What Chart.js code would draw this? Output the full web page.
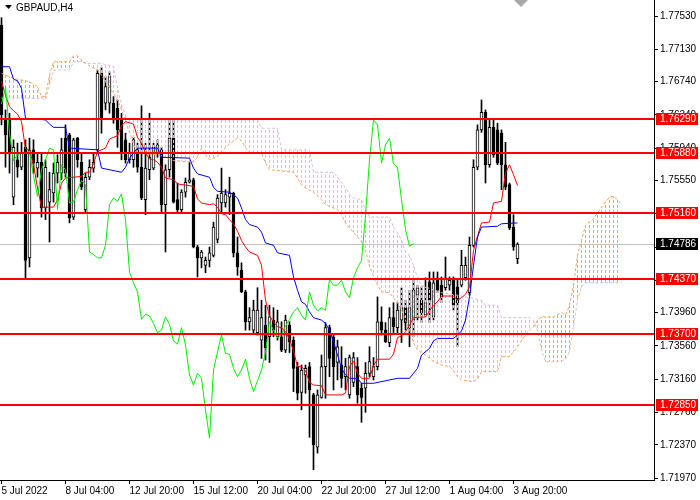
<!DOCTYPE html>
<html>
<head>
<meta charset="utf-8">
<script src="https://cdn.jsdelivr.net/npm/chart.js@4.4.1/dist/chart.umd.min.js"></script>
<style>
    html, body { margin: 0; padding: 0; background: #ffffff; }
    canvas { display: block; }
</style>
</head>
<body>
<canvas id="grafico" width="700" height="500"></canvas>
<script>
// Velas H4 GBPAUD (indice 0 = 5 Jul 12:00)
const aperturas = [
    1.7742, 1.7630, 1.7628, 1.7535, 1.7580, 1.7571, 1.7595, 1.7462, 1.7592, 1.7570,
    1.7577, 1.7522, 1.7529, 1.7540, 1.7564, 1.7564, 1.7606, 1.7610, 1.7511, 1.7606,
    1.7577, 1.7520, 1.7559, 1.7570, 1.7592, 1.7684, 1.7648, 1.7648, 1.7648, 1.7642,
    1.7628, 1.7604, 1.7580, 1.7580, 1.7592, 1.7571, 1.7532, 1.7568, 1.7570, 1.7588,
    1.7592, 1.7526, 1.7568, 1.7606, 1.7532, 1.7520, 1.7541, 1.7553, 1.7556, 1.7475,
    1.7462, 1.7453, 1.7459, 1.7465, 1.7484, 1.7528, 1.7528, 1.7535, 1.7540, 1.7468,
    1.7447, 1.7421, 1.7385, 1.7375, 1.7372, 1.7363, 1.7381, 1.7367, 1.7387, 1.7367,
    1.7367, 1.7351, 1.7381, 1.7363, 1.7331, 1.7300, 1.7321, 1.7331, 1.7297, 1.7234,
    1.7294, 1.7331, 1.7378, 1.7367, 1.7336, 1.7333, 1.7319, 1.7297, 1.7312, 1.7331,
    1.7305, 1.7305, 1.7323, 1.7319, 1.7331, 1.7385, 1.7375, 1.7360, 1.7390, 1.7378,
    1.7387, 1.7402, 1.7378, 1.7387, 1.7417, 1.7411, 1.7393, 1.7433, 1.7391, 1.7438,
    1.7429, 1.7426, 1.7429, 1.7435, 1.7427, 1.7429, 1.7438, 1.7420, 1.7477, 1.7571,
    1.7616, 1.7637, 1.7574, 1.7619, 1.7616, 1.7612, 1.7574, 1.7550, 1.7499, 1.7461
];
const maximos = [
    1.7751, 1.7640, 1.7636, 1.7604, 1.7600, 1.7601, 1.7604, 1.7606, 1.7604, 1.7589,
    1.7589, 1.7580, 1.7565, 1.7576, 1.7586, 1.7606, 1.7622, 1.7612, 1.7606, 1.7607,
    1.7588, 1.7564, 1.7580, 1.7588, 1.7688, 1.7691, 1.7680, 1.7686, 1.7656, 1.7652,
    1.7636, 1.7612, 1.7600, 1.7607, 1.7600, 1.7645, 1.7600, 1.7636, 1.7600, 1.7604,
    1.7595, 1.7574, 1.7628, 1.7628, 1.7552, 1.7544, 1.7558, 1.7577, 1.7558, 1.7477,
    1.7471, 1.7463, 1.7475, 1.7505, 1.7538, 1.7570, 1.7544, 1.7559, 1.7541, 1.7487,
    1.7456, 1.7423, 1.7402, 1.7411, 1.7426, 1.7411, 1.7405, 1.7405, 1.7402, 1.7399,
    1.7385, 1.7393, 1.7385, 1.7367, 1.7336, 1.7333, 1.7333, 1.7336, 1.7299, 1.7303,
    1.7345, 1.7384, 1.7381, 1.7369, 1.7363, 1.7355, 1.7341, 1.7345, 1.7348, 1.7342,
    1.7311, 1.7336, 1.7355, 1.7342, 1.7415, 1.7403, 1.7384, 1.7402, 1.7408, 1.7408,
    1.7426, 1.7411, 1.7423, 1.7435, 1.7429, 1.7427, 1.7438, 1.7445, 1.7445, 1.7445,
    1.7439, 1.7463, 1.7439, 1.7439, 1.7435, 1.7471, 1.7463, 1.7487, 1.7580, 1.7622,
    1.7652, 1.7640, 1.7628, 1.7628, 1.7624, 1.7616, 1.7601, 1.7552, 1.7514, 1.7480
];
const minimos = [
    1.7622, 1.7571, 1.7564, 1.7526, 1.7559, 1.7568, 1.7438, 1.7451, 1.7564, 1.7559,
    1.7511, 1.7508, 1.7481, 1.7529, 1.7552, 1.7556, 1.7559, 1.7504, 1.7508, 1.7571,
    1.7544, 1.7517, 1.7556, 1.7565, 1.7588, 1.7612, 1.7640, 1.7636, 1.7624, 1.7595,
    1.7580, 1.7576, 1.7576, 1.7571, 1.7565, 1.7532, 1.7514, 1.7556, 1.7568, 1.7583,
    1.7516, 1.7469, 1.7559, 1.7528, 1.7516, 1.7516, 1.7535, 1.7552, 1.7474, 1.7439,
    1.7450, 1.7444, 1.7451, 1.7463, 1.7480, 1.7516, 1.7523, 1.7514, 1.7463, 1.7441,
    1.7420, 1.7375, 1.7375, 1.7372, 1.7369, 1.7341, 1.7339, 1.7336, 1.7367, 1.7363,
    1.7349, 1.7348, 1.7348, 1.7301, 1.7291, 1.7279, 1.7299, 1.7246, 1.7207, 1.7227,
    1.7293, 1.7293, 1.7319, 1.7303, 1.7315, 1.7306, 1.7303, 1.7293, 1.7307, 1.7287,
    1.7264, 1.7276, 1.7319, 1.7315, 1.7327, 1.7369, 1.7360, 1.7355, 1.7372, 1.7372,
    1.7360, 1.7375, 1.7355, 1.7367, 1.7387, 1.7384, 1.7391, 1.7384, 1.7387, 1.7420,
    1.7408, 1.7423, 1.7423, 1.7399, 1.7355, 1.7427, 1.7435, 1.7417, 1.7475, 1.7568,
    1.7613, 1.7552, 1.7571, 1.7583, 1.7574, 1.7544, 1.7544, 1.7496, 1.7471, 1.7455
];
const cierres = [
    1.7634, 1.7610, 1.7588, 1.7595, 1.7571, 1.7588, 1.7459, 1.7592, 1.7576, 1.7577,
    1.7522, 1.7571, 1.7544, 1.7564, 1.7577, 1.7592, 1.7564, 1.7510, 1.7604, 1.7580,
    1.7547, 1.7559, 1.7571, 1.7577, 1.7684, 1.7628, 1.7668, 1.7680, 1.7628, 1.7616,
    1.7588, 1.7580, 1.7589, 1.7604, 1.7571, 1.7534, 1.7570, 1.7583, 1.7595, 1.7598,
    1.7526, 1.7568, 1.7606, 1.7529, 1.7520, 1.7541, 1.7553, 1.7556, 1.7475, 1.7462,
    1.7469, 1.7459, 1.7468, 1.7499, 1.7534, 1.7540, 1.7538, 1.7540, 1.7468, 1.7451,
    1.7421, 1.7385, 1.7390, 1.7399, 1.7399, 1.7390, 1.7354, 1.7391, 1.7375, 1.7385,
    1.7351, 1.7387, 1.7361, 1.7329, 1.7299, 1.7327, 1.7329, 1.7303, 1.7237, 1.7297,
    1.7331, 1.7378, 1.7341, 1.7331, 1.7355, 1.7317, 1.7331, 1.7342, 1.7342, 1.7297,
    1.7294, 1.7323, 1.7337, 1.7331, 1.7385, 1.7375, 1.7361, 1.7390, 1.7379, 1.7399,
    1.7402, 1.7384, 1.7402, 1.7423, 1.7426, 1.7396, 1.7408, 1.7411, 1.7432, 1.7423,
    1.7415, 1.7438, 1.7435, 1.7405, 1.7408, 1.7453, 1.7453, 1.7477, 1.7571, 1.7616,
    1.7637, 1.7574, 1.7619, 1.7586, 1.7576, 1.7574, 1.7547, 1.7498, 1.7475, 1.74786
];

// Ichimoku: [indice de barra, precio]
const tenkan = [
    [0,1.7674],[1,1.7658],[2,1.7644],[3,1.7639],[4,1.7635],[5,1.7626],[6,1.7593],[7,1.7592],[8,1.7574],[9,1.7546],
    [10,1.7523],[13,1.7523],[14,1.7532],[15,1.7552],[16,1.7558],[20,1.7560],[21,1.7565],[22,1.7565],[23,1.7575],[24,1.7590],
    [26,1.7594],[27,1.7605],[29,1.7609],[30,1.7621],[31,1.7626],[33,1.7623],[34,1.7607],[35,1.7600],[36,1.7588],[37,1.7581],
    [38,1.7580],[39,1.7577],[40,1.7571],[41,1.7558],[43,1.7556],[44,1.7551],[48,1.7548],[49,1.7533],[50,1.7528],[52,1.7526],
    [53,1.7527],[54,1.7523],[55,1.7515],[56,1.7514],[57,1.7508],[58,1.7503],[59,1.7494],[60,1.7483],[61,1.7475],[62,1.7469],
    [64,1.7465],[65,1.7453],[66,1.7411],[67,1.7392],[68,1.7385],[69,1.7379],[70,1.7378],[71,1.7373],[72,1.7364],[73,1.7350],
    [74,1.7331],[75,1.7331],[76,1.7326],[77,1.7312],[78,1.7309],[80,1.7308],[81,1.7297],[85,1.7297],[86,1.7299],[87,1.7331],
    [88,1.7338],[89,1.7323],[90,1.7317],[92,1.7317],[93,1.7332],[94,1.7340],[97,1.7340],[98,1.7346],[99,1.7366],[100,1.7368],
    [101,1.7373],[102,1.7381],[103,1.7390],[106,1.7391],[107,1.7398],[108,1.7405],[109,1.7409],[110,1.7416],[113,1.7416],[114,1.7411],
    [115,1.7414],[116,1.7418],[117,1.7427],[118,1.7471],[119,1.7488],[120,1.7504],[122,1.7505],[123,1.7528],[125,1.7530],[126,1.7564],
    [127,1.7574],[128,1.7562],[129,1.7549]
];
const kijun = [
    [0,1.7692],[2,1.7692],[3,1.7677],[4,1.7675],[5,1.7666],[6,1.7630],[11,1.7628],[12,1.7623],[13,1.7619],[16,1.7619],
    [17,1.7594],[24,1.7592],[25,1.7570],[30,1.7565],[31,1.7571],[32,1.7582],[33,1.7588],[34,1.7594],[39,1.7594],[40,1.7583],
    [47,1.7582],[48,1.7570],[49,1.7563],[52,1.7559],[53,1.7547],[54,1.7542],[57,1.7541],[58,1.7538],[59,1.7534],[60,1.7522],
    [61,1.7508],[62,1.7502],[64,1.7499],[65,1.7493],[66,1.7480],[68,1.7477],[69,1.7468],[72,1.7465],[73,1.7439],[74,1.7423],
    [75,1.7409],[76,1.7406],[77,1.7397],[78,1.7390],[80,1.7387],[81,1.7383],[82,1.7375],[83,1.7361],[84,1.7345],[85,1.7329],
    [86,1.7321],[87,1.7317],[89,1.7317],[90,1.7311],[93,1.7311],[99,1.7317],[102,1.7317],[104,1.7329],[105,1.7345],[107,1.7353],
    [108,1.7362],[109,1.7365],[113,1.7365],[114,1.7369],[115,1.7374],[116,1.7387],[117,1.7415],[118,1.7453],[119,1.7487],[120,1.7499],
    [124,1.7500],[125,1.7503],[129,1.7504]
];
const chikou = [
    1.7647, 1.7668, 1.7612, 1.7579, 1.7586, 1.7589, 1.7589, 1.7589, 1.7561, 1.7536,
    1.7568, 1.7580, 1.7594, 1.7592, 1.7520, 1.7574, 1.7568, 1.7528, 1.7529, 1.7544,
    1.7555, 1.7550, 1.7469, 1.7466, 1.7462, 1.7462, 1.7477, 1.7526, 1.7534, 1.7530,
    1.7539, 1.7508, 1.7445, 1.7432, 1.7421, 1.7388, 1.7394, 1.7392, 1.7383, 1.7372,
    1.7375, 1.7391, 1.7382, 1.7362, 1.7358, 1.7378, 1.7357, 1.7321, 1.7309, 1.7323,
    1.7317, 1.7279, 1.7245, 1.7327, 1.7349, 1.7369, 1.7347, 1.7346, 1.7329, 1.7319,
    1.7327, 1.7340, 1.7317, 1.7301, 1.7314, 1.7327, 1.7348, 1.7385, 1.7375, 1.7366,
    1.7369, 1.7380, 1.7388, 1.7397, 1.7402, 1.7393, 1.7387, 1.7421, 1.7405, 1.7398,
    1.7402, 1.7399, 1.7436, 1.7429, 1.7429, 1.7435, 1.7421, 1.7414, 1.7438, 1.7450,
    1.7459, 1.7513, 1.7580, 1.7628, 1.7622, 1.7576, 1.7598, 1.7606, 1.7575, 1.7571,
    1.7532, 1.7496, 1.7476, 1.7479
];
const spanA = [
    [0,1.7684],[3,1.7678],[7,1.7674],[9,1.7668],[10,1.7656],[11,1.7656],[12,1.7682],[13,1.7698],[17,1.7698],[18,1.7705],
    [19,1.7705],[20,1.7700],[22,1.7693],[24,1.7688],[25,1.7682],[26,1.7674],[28,1.7660],[29,1.7652],[30,1.7640],[31,1.7626],
    [32,1.7613],[33,1.7598],[34,1.7588],[39,1.7586],[43,1.7579],[48,1.7577],[49,1.7583],[50,1.7594],[51,1.7586],[52,1.7580],
    [54,1.7584],[56,1.7595],[57,1.7599],[59,1.7606],[60,1.7603],[61,1.7595],[62,1.7588],[65,1.7588],[66,1.7576],[67,1.7568],
    [73,1.7565],[74,1.7558],[75,1.7550],[76,1.7546],[78,1.7541],[80,1.7532],[81,1.7526],[83,1.7522],[84,1.7520],[85,1.7514],
    [86,1.7504],[87,1.7498],[89,1.7487],[90,1.7481],[91,1.7471],[92,1.7452],[93,1.7440],[94,1.7429],[95,1.7421],[97,1.7420],
    [98,1.7414],[99,1.7408],[100,1.7399],[101,1.7387],[102,1.7375],[103,1.7360],[104,1.7351],[106,1.7345],[108,1.7337],[110,1.7333],
    [112,1.7331],[113,1.7326],[114,1.7319],[115,1.7315],[118,1.7313],[119,1.7316],[120,1.7325],[124,1.7325],[125,1.7343],[127,1.7343],
    [129,1.7355],[130,1.7362],[131,1.7369],[132,1.7375],[133,1.7379],[134,1.7387],[135,1.7391],[138,1.7391],[140,1.7396],[141,1.7393],
    [142,1.7405],[143,1.7429],[144,1.7465],[145,1.7483],[146,1.7501],[148,1.7509],[149,1.7516],[150,1.7523],[151,1.7529],[152,1.7535],
    [153,1.7536],[154,1.7532],[155,1.7526]
];
const spanB = [
    [0,1.7654],[10,1.7654],[11,1.7652],[12,1.7670],[13,1.7688],[17,1.7688],[18,1.7698],[20,1.7698],[21,1.7696],[25,1.7696],
    [28,1.7692],[29,1.7666],[30,1.7646],[31,1.7634],[32,1.7628],[64,1.7628],[65,1.7618],[69,1.7618],[70,1.7592],[77,1.7592],
    [78,1.7565],[83,1.7565],[85,1.7553],[86,1.7546],[87,1.7539],[88,1.7534],[90,1.7532],[91,1.7520],[92,1.7511],[97,1.7511],
    [98,1.7499],[99,1.7492],[100,1.7483],[101,1.7469],[102,1.7465],[103,1.7453],[104,1.7438],[105,1.7429],[106,1.7427],[110,1.7420],
    [114,1.7417],[120,1.7411],[121,1.7405],[124,1.7405],[125,1.7390],[132,1.7390],[133,1.7387],[134,1.7375],[135,1.7351],[136,1.7337],
    [140,1.7337],[141,1.7340],[142,1.7349],[143,1.7379],[144,1.7411],[145,1.7427],[146,1.7432],[155,1.7432]
];

// Niveles horizontales y ejes
const niveles = [1.7629, 1.7588, 1.7516, 1.7437, 1.7370, 1.7285];
const precioActual = 1.74786;
const marcasY = [1.7197, 1.7237, 1.7276, 1.7316, 1.7356, 1.7396, 1.7435, 1.7475, 1.7515, 1.7555, 1.7594, 1.7634, 1.7674, 1.7713, 1.7753];
const marcasX = [0, 16, 32, 48, 64, 80, 96, 112, 128];
const etiquetasX = ['5 Jul 2022', '8 Jul 04:00', '12 Jul 20:00', '15 Jul 12:00', '20 Jul 04:00', '22 Jul 20:00', '27 Jul 12:00', '1 Aug 04:00', '3 Aug 20:00'];

Chart.defaults.font.family = "'Liberation Sans', Arial, sans-serif";
Chart.defaults.font.size = 10;
Chart.defaults.color = '#000000';

// rayado punteado vertical de la nube (una linea cada 4 px)
function rayado(color) {
    const c = document.createElement('canvas');
    c.width = 4;
    c.height = 5;
    const g = c.getContext('2d');
    g.fillStyle = color;
    g.fillRect(1, 0, 1, 3);
    return g.createPattern(c, 'repeat');
}

const puntos = arr => arr.map(([x, y]) => ({ x, y }));

const cuerpos = aperturas.map((o, i) => ({ x: i, y: [Math.min(o, cierres[i]), Math.max(o, cierres[i])] }));
const mechas = minimos.map((l, i) => ({ x: i, y: [l, maximos[i]] }));
const colorCuerpo = aperturas.map((o, i) => cierres[i] >= o ? '#ffffff' : '#000000');

const extras = {
    id: 'extras',
    beforeDatasetsDraw(chart) {
        const { ctx, chartArea: a, scales: { y } } = chart;
        const py = Math.round(y.getPixelForValue(precioActual)) + 0.5;
        ctx.save();
        ctx.strokeStyle = '#c0c0c0';
        ctx.lineWidth = 1;
        ctx.beginPath();
        ctx.moveTo(a.left, py);
        ctx.lineTo(a.right, py);
        ctx.stroke();
        ctx.restore();
    },
    afterDatasetsDraw(chart) {
        const { ctx, chartArea: a, scales: { y } } = chart;
        ctx.save();
        ctx.strokeStyle = '#ff0000';
        ctx.lineWidth = 2;
        niveles.forEach(n => {
            const py = Math.round(y.getPixelForValue(n));
            ctx.beginPath();
            ctx.moveTo(a.left, py);
            ctx.lineTo(a.right, py);
            ctx.stroke();
        });
        ctx.restore();
    },
    afterDraw(chart) {
        const { ctx, chartArea: a, scales: { y } } = chart;
        ctx.save();
        ctx.font = "10px 'Liberation Sans', Arial, sans-serif";
        ctx.textBaseline = 'middle';
        ctx.textAlign = 'left';

        const caja = (valor, fondo) => {
            const py = Math.round(y.getPixelForValue(valor));
            ctx.fillStyle = fondo;
            ctx.fillRect(a.right + 2, py - 6, 42, 12);
            ctx.fillStyle = '#ffffff';
            ctx.fillText(valor.toFixed(5), a.right + 6, py + 0.5);
        };
        niveles.forEach(n => caja(n, '#ff0000'));
        caja(precioActual, '#000000');

        // titulo del simbolo
        ctx.fillStyle = '#000000';
        ctx.beginPath();
        ctx.moveTo(5, 5);
        ctx.lineTo(12, 5);
        ctx.lineTo(8.5, 9);
        ctx.closePath();
        ctx.fill();
        ctx.fillText('GBPAUD,H4', 16, 8);

        // marca de desplazamiento del grafico
        ctx.fillStyle = '#a8a8a8';
        ctx.beginPath();
        ctx.moveTo(514, 0);
        ctx.lineTo(528, 0);
        ctx.lineTo(521, 7);
        ctx.closePath();
        ctx.fill();
        ctx.restore();
    }
};

const ctx = document.getElementById('grafico').getContext('2d');

window.graficoIchimoku = new Chart(ctx, {
    type: 'bar',
    data: {
        datasets: [
            {
                type: 'line',
                label: 'Chikou',
                data: chikou.map((v, i) => ({ x: i, y: v })),
                borderColor: '#00ee00',
                borderWidth: 1,
                pointRadius: 0,
                tension: 0,
                order: 1
            },
            {
                type: 'line',
                label: 'Kijun',
                data: puntos(kijun),
                borderColor: '#0000ff',
                borderWidth: 1,
                pointRadius: 0,
                tension: 0,
                order: 2
            },
            {
                type: 'line',
                label: 'Tenkan',
                data: puntos(tenkan),
                borderColor: '#ff0000',
                borderWidth: 1,
                pointRadius: 0,
                tension: 0,
                order: 3
            },
            {
                type: 'line',
                label: 'Senkou A',
                data: puntos(spanA),
                borderColor: '#f4a460',
                borderWidth: 1,
                borderDash: [3, 2],
                pointRadius: 0,
                tension: 0,
                fill: { target: 4, above: rayado('#f4a460'), below: rayado('#d8bfd8') },
                order: 4
            },
            {
                type: 'line',
                label: 'Senkou B',
                data: puntos(spanB),
                borderColor: '#d8bfd8',
                borderWidth: 1,
                borderDash: [3, 2],
                pointRadius: 0,
                tension: 0,
                fill: false,
                order: 5
            },
            {
                type: 'bar',
                label: 'Cuerpos',
                data: cuerpos,
                backgroundColor: colorCuerpo,
                borderColor: '#000000',
                borderWidth: 1,
                borderSkipped: false,
                barThickness: 3,
                minBarLength: 1,
                grouped: false,
                order: 6
            },
            {
                type: 'bar',
                label: 'Mechas',
                data: mechas,
                backgroundColor: '#000000',
                borderWidth: 0,
                barThickness: 1,
                grouped: false,
                order: 7
            }
        ]
    },
    options: {
        responsive: false,
        animation: false,
        devicePixelRatio: 1,
        events: [],
        layout: { padding: 0, autoPadding: false },
        plugins: {
            legend: { display: false },
            tooltip: { enabled: false },
            title: { display: false }
        },
        scales: {
            x: {
                type: 'linear',
                min: -0.375,
                max: 163.125,
                offset: false,
                grid: { drawOnChartArea: false, drawTicks: true, tickLength: 4, color: '#000000', offset: false },
                border: { display: true, color: '#000000', width: 1 },
                ticks: {
                    align: 'start',
                    maxRotation: 0,
                    minRotation: 0,
                    autoSkip: false,
                    padding: 1,
                    color: '#000000',
                    callback: (v, i) => etiquetasX[i]
                },
                afterBuildTicks: s => { s.ticks = marcasX.map(v => ({ value: v })); },
                afterFit: s => { s.height = 20; s.paddingLeft = 0; s.paddingRight = 0; }
            },
            y: {
                type: 'linear',
                position: 'right',
                min: 1.71946,
                max: 1.77723,
                grid: { drawOnChartArea: false, drawTicks: true, tickLength: 4, color: '#000000' },
                border: { display: true, color: '#000000', width: 1 },
                ticks: {
                    padding: 2,
                    color: '#000000',
                    callback: v => v.toFixed(5)
                },
                afterBuildTicks: s => { s.ticks = marcasY.map(v => ({ value: v })); },
                afterFit: s => { s.width = 46; s.paddingTop = 0; s.paddingBottom = 0; }
            }
        }
    },
    plugins: [extras]
});
</script>
</body>
</html>
